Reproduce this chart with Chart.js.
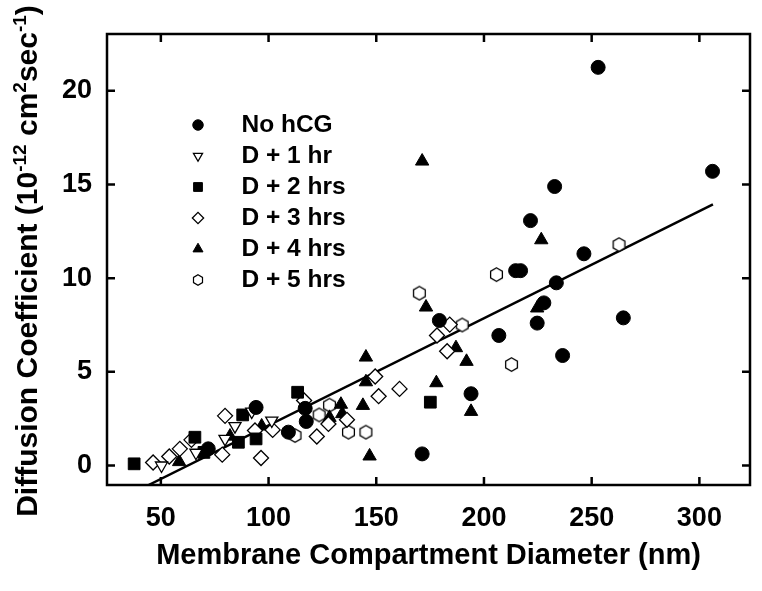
<!DOCTYPE html>
<html>
<head>
<meta charset="utf-8">
<title>Diffusion coefficient vs membrane compartment diameter</title>
<script src="https://cdn.jsdelivr.net/npm/chart.js"></script>
<style>
  html, body { margin: 0; padding: 0; background: #fff; }
  #chart { display: block; }
</style>
</head>
<body>
<canvas id="chart" width="762" height="591"></canvas>
<script>
// tick labels
const xTicks = [50, 100, 150, 200, 250, 300]
const yTicks = [0, 5, 10, 15, 20]

// series (x = diameter in nm, y = D in 10^-12 cm2/s)
const noHcgX = [253.0, 306.1, 232.8, 221.6, 246.4, 214.7, 217.0, 233.6, 227.8, 224.7, 264.7, 179.3, 206.9, 236.5, 194.0, 171.3, 117.0, 117.5, 109.2, 94.2, 72.0]
const noHcgY = [21.25, 15.7, 14.89, 13.07, 11.3, 10.4, 10.4, 9.75, 8.68, 7.6, 7.88, 7.74, 6.94, 5.87, 3.83, 0.62, 3.05, 2.35, 1.78, 3.1, 0.89]

const d1X = [50.3, 66.3, 79.8, 84.4, 92.2, 101.5]
const d1Y = [0.0, 0.68, 1.42, 2.1, 2.88, 2.4]

const d2X = [37.6, 65.8, 70.0, 86.0, 88.0, 94.2, 113.5, 175.1]
const d2Y = [0.09, 1.51, 0.7, 1.24, 2.7, 1.42, 3.91, 3.38]

const d3X = [46.4, 53.9, 58.8, 64.2, 78.5, 79.8, 93.7, 96.5, 101.9, 116.5, 122.4, 127.8, 136.4, 149.5, 151.1, 160.8, 178.2, 182.9, 184.1]
const d3Y = [0.16, 0.48, 0.89, 1.37, 0.58, 2.65, 1.87, 0.4, 1.9, 3.47, 1.55, 2.22, 2.44, 4.75, 3.7, 4.09, 6.94, 6.1, 7.52]

const d4X = [58.5, 82.1, 96.8, 128.3, 133.6, 134.2, 143.8, 145.2, 145.2, 146.9, 171.3, 173.1, 177.9, 187.0, 191.9, 194.0, 224.7, 226.6]
const d4Y = [0.2, 1.56, 2.1, 2.56, 3.26, 2.76, 3.2, 4.46, 5.78, 0.5, 16.24, 8.45, 4.41, 6.28, 5.55, 2.88, 8.4, 12.04]

const d5X = [112.3, 123.5, 128.3, 137.1, 145.2, 170.0, 189.9, 205.8, 212.8, 262.7]
const d5Y = [1.6, 2.7, 3.22, 1.78, 1.78, 9.2, 7.5, 10.19, 5.39, 11.79]

// regression line end points
const fitX = [44.3, 306.3]
const fitY = [-1.04, 13.94]

const FONT = '"Liberation Sans", Arial, Helvetica, sans-serif'
Chart.defaults.font.family = FONT
Chart.defaults.color = '#000'

const pts = (xs, ys) => xs.map((x, i) => ({ x: x, y: ys[i] }))

// open hexagon marker (pointy top)
function makeHex(r, lw) {
  const s = Math.ceil(2 * r + lw + 2)
  const c = document.createElement('canvas')
  c.width = s; c.height = s
  const g = c.getContext('2d')
  g.beginPath()
  for (let k = 0; k < 6; k++) {
    const a = -Math.PI / 2 + k * Math.PI / 3
    const px = s / 2 + r * Math.cos(a), py = s / 2 + r * Math.sin(a)
    k ? g.lineTo(px, py) : g.moveTo(px, py)
  }
  g.closePath()
  g.fillStyle = '#fff'; g.fill()
  g.lineWidth = lw; g.strokeStyle = '#000'; g.stroke()
  return c
}
const hexBig = makeHex(6.8, 1.3)
const hexSmall = makeHex(5.2, 1.2)

// inward ticks + box frame
const framePlugin = {
  id: 'frame',
  afterDraw(chart) {
    const { ctx, chartArea: a, scales } = chart
    ctx.save()
    ctx.strokeStyle = '#000'
    ctx.lineWidth = 2.5
    ctx.beginPath()
    xTicks.forEach(v => {
      const px = scales.x.getPixelForValue(v)
      ctx.moveTo(px, a.bottom); ctx.lineTo(px, a.bottom - 8)
      ctx.moveTo(px, a.top); ctx.lineTo(px, a.top + 8)
    })
    yTicks.forEach(v => {
      const py = scales.y.getPixelForValue(v)
      ctx.moveTo(a.left, py); ctx.lineTo(a.left + 8, py)
      ctx.moveTo(a.right, py); ctx.lineTo(a.right - 8, py)
    })
    ctx.stroke()
    ctx.strokeRect(a.left, a.top, a.right - a.left, a.bottom - a.top)
    ctx.restore()
  }
}

// y title with superscripts
const yTitlePlugin = {
  id: 'yTitle',
  afterDraw(chart) {
    const ctx = chart.ctx
    const parts = [
      ['Diffusion Coefficient (10', 0], ['-12', 1], [' cm', 0], ['2', 1], ['sec', 0], ['-1', 1], [')', 0]
    ]
    const big = 'bold 30px ' + FONT, small = 'bold 19px ' + FONT
    ctx.save()
    let total = 0
    parts.forEach(p => { ctx.font = p[1] ? small : big; total += ctx.measureText(p[0]).width })
    ctx.translate(37, 261)
    ctx.rotate(-Math.PI / 2)
    ctx.fillStyle = '#000'
    ctx.textBaseline = 'alphabetic'
    let x = -total / 2
    parts.forEach(p => {
      ctx.font = p[1] ? small : big
      ctx.fillText(p[0], x, p[1] ? -11 : 0)
      x += ctx.measureText(p[0]).width
    })
    ctx.restore()
  }
}

// legend inside plot area
const legendPlugin = {
  id: 'insideLegend',
  afterDraw(chart) {
    const ctx = chart.ctx
    ctx.save()
    ctx.textBaseline = 'middle'
    chart.data.datasets.slice(0, 6).forEach((ds, i) => {
      const y = 125 + i * 31
      ctx.fillStyle = ds.backgroundColor
      ctx.strokeStyle = ds.borderColor
      ctx.lineWidth = ds.borderWidth
      Chart.helpers.drawPoint(ctx, {
        pointStyle: i === 5 ? hexSmall : ds.pointStyle,
        rotation: ds.pointRotation || 0,
        radius: ds.pointRadius * 0.75,
        borderWidth: ds.borderWidth
      }, 198, y)
      ctx.fillStyle = '#000'
      ctx.font = 'bold 24.5px ' + FONT
      ctx.fillText(ds.label, 241.5, y)
    })
    ctx.restore()
  }
}

new Chart(document.getElementById('chart'), {
  type: 'scatter',
  data: {
    datasets: [
      { label: 'No hCG', data: pts(noHcgX, noHcgY), pointStyle: 'circle', pointRadius: 7, backgroundColor: '#000', borderColor: '#000', borderWidth: 1 },
      { label: 'D + 1 hr', data: pts(d1X, d1Y), pointStyle: 'triangle', pointRotation: 180, pointRadius: 7, backgroundColor: '#fff', borderColor: '#000', borderWidth: 1.3 },
      { label: 'D + 2 hrs', data: pts(d2X, d2Y), pointStyle: 'rect', pointRadius: 8.3, backgroundColor: '#000', borderColor: '#000', borderWidth: 1 },
      { label: 'D + 3 hrs', data: pts(d3X, d3Y), pointStyle: 'rectRot', pointRadius: 7.5, backgroundColor: '#fff', borderColor: '#000', borderWidth: 1.3 },
      { label: 'D + 4 hrs', data: pts(d4X, d4Y), pointStyle: 'triangle', pointRadius: 7.7, backgroundColor: '#000', borderColor: '#000', borderWidth: 1 },
      { label: 'D + 5 hrs', data: pts(d5X, d5Y), pointStyle: hexBig, pointRadius: 7, backgroundColor: '#fff', borderColor: '#000', borderWidth: 1.3 },
      { label: 'fit', data: pts(fitX, fitY), showLine: true, pointRadius: 0, borderColor: '#000', borderWidth: 2.5, fill: false }
    ]
  },
  options: {
    responsive: false,
    animation: false,
    events: [],
    layout: { padding: { top: 34, right: 12, left: 0, bottom: 0 } },
    plugins: { legend: { display: false }, tooltip: { enabled: false } },
    scales: {
      x: {
        type: 'linear', min: 25, max: 323.5,
        afterBuildTicks: s => { s.ticks = xTicks.map(v => ({ value: v })) },
        afterFit: s => { s.height = 106 },
        grid: { display: false, drawTicks: false },
        border: { display: false },
        ticks: { font: { size: 27, weight: 'bold' }, color: '#000', padding: 17, maxRotation: 0, callback: v => String(v) },
        title: { display: true, text: 'Membrane Compartment Diameter (nm)', font: { size: 29, weight: 'bold' }, color: '#000', padding: { top: 0, bottom: 17.5 } }
      },
      y: {
        type: 'linear', min: -1.04, max: 23.03,
        afterBuildTicks: s => { s.ticks = yTicks.map(v => ({ value: v })) },
        afterFit: s => { s.width = 107 },
        grid: { display: false, drawTicks: false },
        border: { display: false },
        ticks: { font: { size: 27, weight: 'bold' }, color: '#000', padding: 15, callback: v => String(v) }
      }
    }
  },
  plugins: [framePlugin, yTitlePlugin, legendPlugin]
})
</script>
</body>
</html>
